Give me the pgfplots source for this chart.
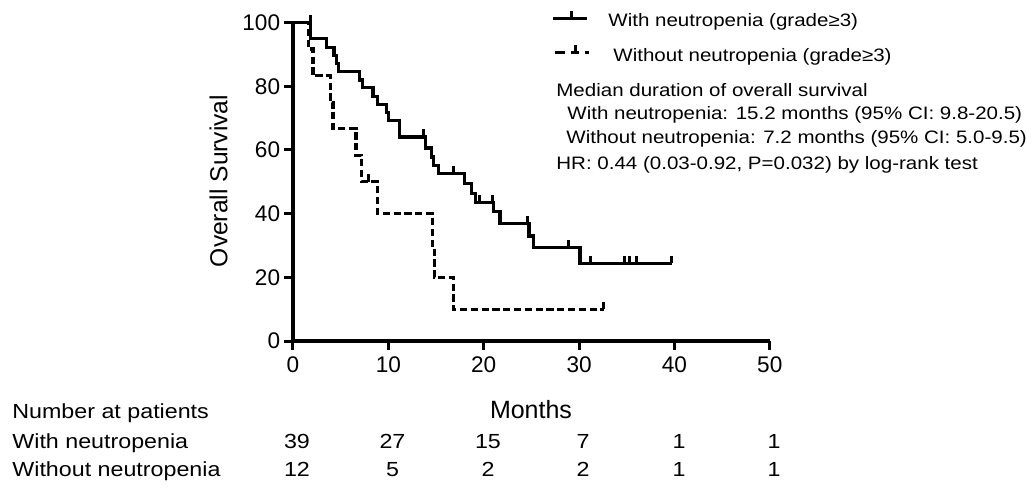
\documentclass[border=0pt]{standalone}
\usepackage{fontspec}
\setmainfont{Liberation Sans}
\newfontfamily\widefont[FakeStretch=1.14]{Liberation Sans}
\usepackage{pgfplots}
\pgfplotsset{compat=1.18}

% censoring tick: short vertical stroke above the curve
\pgfdeclareplotmark{cens}{%
  \pgfpathmoveto{\pgfpointorigin}%
  \pgfpathlineto{\pgfpoint{0pt}{3.8pt}}%
  \pgfusepathqstroke}

\begin{document}
\begin{tikzpicture}
\begin{axis}[
at={(0,0)}, anchor=south west,
width=238.4pt, height=159.2pt, scale only axis,
xmin=0, xmax=50, ymin=0, ymax=100,
axis x line*=bottom, axis y line*=left,
xtick={0,10,...,50}, ytick={0,20,...,100},
tick align=outside,
major tick length=4.5pt,
every tick/.style={black, line width=1.5pt},
axis line style={line width=1.6pt},
ticklabel style={font=\fontsize{11.3}{13}\selectfont},
yticklabel style={xshift=1.6pt},
/pgf/number format/assume math mode=true,
clip=false,
]
% with neutropenia (grade >= 3)
\addplot [const plot, line width=1.6pt, black, mark=none]
coordinates {
(0,100) (1.8,94.9) (3.5,92.3) (4.3,89.7) (4.55,87.2) (4.8,84.6)
(7.0,82.0) (7.25,79.5) (8.4,76.9) (8.9,74.4) (9.8,71.8) (10.05,69.2)
(11.2,64.1) (13.9,60.6) (14.5,57.8) (14.7,55.1) (15.3,52.5)
(18.0,49.5) (18.7,46.4) (19.1,43.4) (21.0,40.6) (21.7,37.0)
(24.75,33.0) (25.2,29.4) (30.1,24.4) (39.7,24.4)
};
\addplot [only marks, mark=cens, line width=1.5pt, black]
coordinates {
(1.8,100) (13.7,64.1) (16.8,52.5) (19.6,43.4) (20.9,43.4) (24.6,37.0)
(28.9,29.4) (31.2,24.4) (34.8,24.4) (35.3,24.4) (36.0,24.4) (39.7,24.4)
};
% without neutropenia (grade >= 3)
\addplot [const plot, line width=1.6pt, black, dash pattern=on 3.6pt off 1.8pt, mark=none]
coordinates {
(0,100) (1.6,91.7) (2.1,83.3) (3.9,75.0) (4.2,66.7) (6.6,58.3)
(7.2,50.0) (8.9,40.0) (14.6,30.0) (14.8,20.0) (16.8,10.0) (32.6,10.0)
};
\addplot [only marks, mark=cens, line width=1.5pt, black]
coordinates {
(7.9,50.0) (32.6,10.0)
};
\end{axis}

% annotations in image pixel coordinates (origin top left)
\begin{scope}[x=0.5pt, y=-0.5pt, shift={(-146.5pt,170.5pt)}]
% legend samples
\draw[line width=1.5pt] (553,18.3) -- (587,18.3);
\draw[line width=1.5pt] (571,18.3) -- (571,11);
\draw[line width=1.5pt] (555,52) -- (565,52);
\draw[line width=1.5pt] (571,52) -- (579,52);
\draw[line width=1.5pt] (575,52) -- (575,45);
\draw[line width=1.5pt] (585,52) -- (589,52);
\begin{scope}[every node/.style={anchor=base west, inner sep=0pt,
  font=\widefont\fontsize{9.0}{11}\selectfont}]
\node at (608,26) {With neutropenia (grade≥3)};
\node at (613,61.7) {Without neutropenia (grade≥3)};
\node at (556,96) {Median duration of overall survival};
\node at (567,119.5) {With neutropenia: 15.2 months (95\% CI: 9.8-20.5)};
\node at (566,143) {Without neutropenia: 7.2 months (95\% CI: 5.0-9.5)};
\node at (556,169.5) {HR: 0.44 (0.03-0.92, P=0.032) by log-rank test};
\end{scope}
% axis titles
\node[rotate=90, inner sep=0pt, font=\fontsize{12.3}{14}\selectfont] at (218.5,181) {Overall Survival};
\node[anchor=base, inner sep=0pt, font=\fontsize{12.5}{14}\selectfont] at (531,418) {Months};
% number at risk
\begin{scope}[every node/.style={inner sep=0pt, font=\widefont\fontsize{10.2}{12}\selectfont}]
\node[anchor=base west] at (12,418.5) {Number at patients};
\node[anchor=base west] at (12,448) {With neutropenia};
\node[anchor=base west] at (12,476.5) {Without neutropenia};
\node[anchor=base] at (297,448) {39};
\node[anchor=base] at (392.5,448) {27};
\node[anchor=base] at (488,448) {15};
\node[anchor=base] at (583,448) {7};
\node[anchor=base] at (679,448) {1};
\node[anchor=base] at (774,448) {1};
\node[anchor=base] at (297,476.5) {12};
\node[anchor=base] at (392.5,476.5) {5};
\node[anchor=base] at (488,476.5) {2};
\node[anchor=base] at (583,476.5) {2};
\node[anchor=base] at (679,476.5) {1};
\node[anchor=base] at (774,476.5) {1};
\end{scope}
\end{scope}
\pgfresetboundingbox
\path[use as bounding box] (-146.5pt,-74pt) rectangle (370.5pt,170.5pt);
\end{tikzpicture}
\end{document}
